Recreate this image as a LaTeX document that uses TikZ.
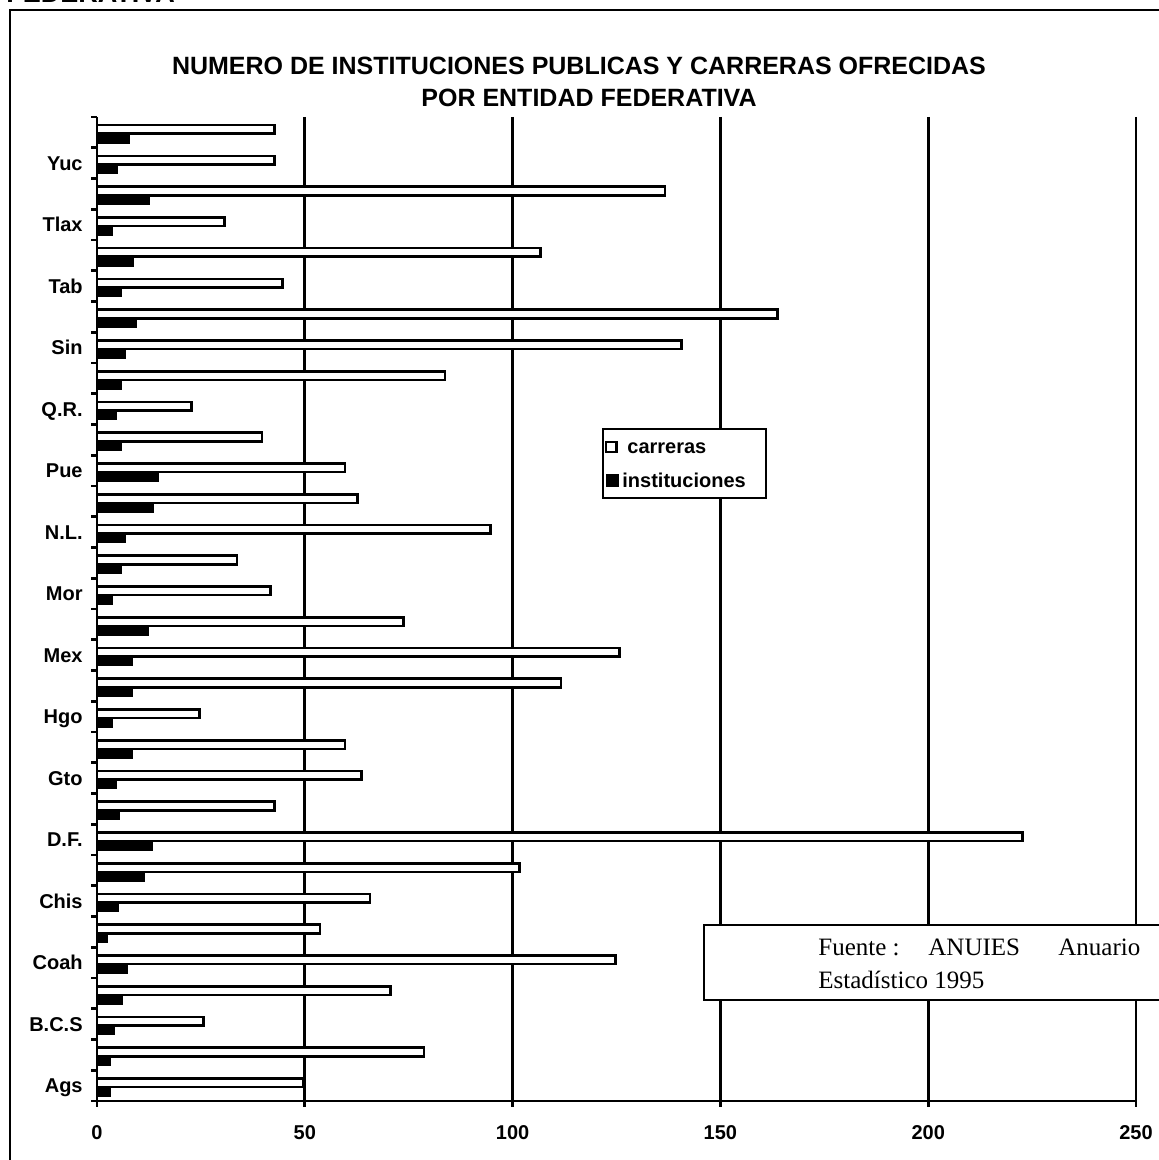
\documentclass[tikz,border=0pt]{standalone}
\usepackage{fontspec}
\setmainfont{Liberation Sans}
\newfontfamily\srcfont{Liberation Serif}
\begin{document}
\begin{tikzpicture}[x=0.5pt,y=-0.5pt,
  frameline/.style={line width=1.1pt},
  axisline/.style={line width=1.4pt},
  gridline/.style={line width=1.35pt},
  barW/.style={draw=black,fill=white,line width=1.3pt},
  barB/.style={draw=black,fill=black,line width=1.3pt},
  catlabel/.style={font=\bfseries\fontsize{10}{12}\selectfont,anchor=base east,inner sep=0pt},
  vallabel/.style={font=\bfseries\fontsize{10}{12}\selectfont,anchor=base,inner sep=0pt},
  titletext/.style={font=\bfseries\fontsize{12.5}{15}\selectfont,anchor=base,inner sep=0pt},
  legtext/.style={font=\bfseries\fontsize{10}{12}\selectfont,anchor=base west,inner sep=0pt},
  srctext/.style={font=\srcfont\fontsize{12.5}{15}\selectfont,anchor=base west,inner sep=0pt},
  boxed/.style={draw=black,fill=white,line width=1.2pt}]
\useasboundingbox (0,0) rectangle (1159,1160);
\clip (0,0) rectangle (1159,1160);
\fill[white] (0,0) rectangle (1159,1160);

% heading of the page above, cut by the frame
\node[font=\bfseries\fontsize{13.5}{16}\selectfont,anchor=base west,inner sep=0pt] (pagehead) at (6,3) {FEDERATIVA};

% outer frame
\draw[frameline] (10,1175) -- (10,10) -- (1175,10);

% title
\node[titletext] (title1) at (579,75) {NUMERO DE INSTITUCIONES PUBLICAS Y CARRERAS OFRECIDAS};
\node[titletext] (title2) at (589,107) {POR ENTIDAD FEDERATIVA};

% vertical gridlines
\foreach \v in {50,100,150,200,250}
  \draw[gridline] ({97+4.156*\v},117) -- ({97+4.156*\v},1107);

% carreras (white bars), from Ags upwards
\foreach \c [count=\i from 0] in {50,79,26,71,125,54,66,102,223,43,64,60,25,112,126,74,42,34,95,63,60,40,23,84,141,164,45,107,31,137,43,43}{
  \pgfmathsetmacro\yt{1101-(\i+1)*30.75}
  \pgfmathsetmacro\xe{97+4.156*\c-1.3}
  \draw[barW] (97,{\yt+8.2}) rectangle (\xe,{\yt+16.8});
}
% instituciones (black bars)
\foreach \c [count=\i from 0] in {3.3,3.3,4.3,6.3,7.5,2.7,5.3,11.5,13.5,5.5,4.7,8.7,3.8,8.7,8.7,12.6,3.8,5.9,6.9,13.7,14.9,5.9,4.7,5.9,6.9,9.7,5.9,8.9,3.9,12.8,5,7.9}{
  \pgfmathsetmacro\yt{1101-(\i+1)*30.75}
  \pgfmathsetmacro\xe{97+4.156*\c-1.3}
  \draw[barB] (97,{\yt+16.8}) rectangle (\xe,{\yt+25.3});
}

% axes and ticks
\draw[axisline] (97,117) -- (97,1107);
\draw[axisline] (97,1101) -- (1136,1101);
\foreach \k in {0,...,32}
  \draw[axisline] (91,{1101-\k*30.75}) -- (97,{1101-\k*30.75});

% category labels
\foreach \lab [count=\j from 0] in {Ags,B.C.S,Coah,Chis,D.F.,Gto,Hgo,Mex,Mor,N.L.,Pue,Q.R.,Sin,Tab,Tlax,Yuc}{
  \node[catlabel] (cat\j) at (83,{1101-(2*\j+0.5)*30.75+7.2}) {\lab};
}

% value labels
\foreach \v in {0,50,100,150,200,250}
  \node[vallabel] (val\v) at ({97+4.156*\v},1139) {\v};

% legend
\node[boxed,inner sep=0pt,anchor=north west,minimum width=81.5pt,minimum height=34.5pt] (legend) at (602,428) {};
\draw[line width=1.3pt,fill=white] (606,442) rectangle (616.5,452);
\fill[black] (606,474) rectangle (619,487);
\node[legtext] (legc) at (627,453) {carreras};
\node[legtext] (legi) at (622,487) {instituciones};

% source note
\node[boxed,inner sep=0pt,anchor=north west,minimum width=236pt,minimum height=37.5pt] (source) at (703,924) {};
\node[srctext] (src1) at (818,955) {Fuente :};
\node[srctext] (src2) at (928,955) {ANUIES};
\node[srctext] (src3) at (1058,955) {Anuario};
\node[srctext] (src4) at (818,988) {Estad\'{\i}stico 1995};
\end{tikzpicture}
\end{document}
